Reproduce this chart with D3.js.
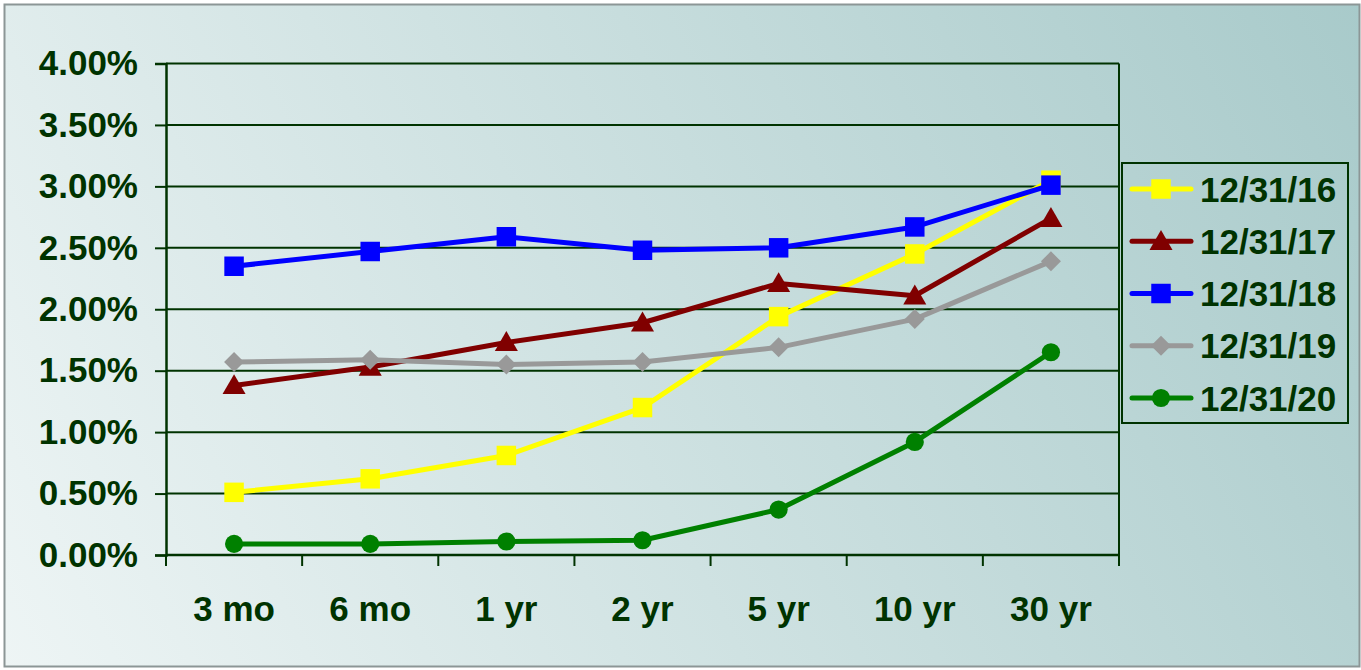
<!DOCTYPE html>
<html>
<head>
<meta charset="utf-8">
<script src="https://cdn.jsdelivr.net/npm/d3@7"></script>
<style>
  html, body { margin: 0; padding: 0; background: #ffffff; }
  svg { display: block; }
  text { font-family: "Liberation Sans", Arial, sans-serif; font-weight: bold; fill: #003300; }
</style>
</head>
<body>
<svg id="chart" width="1361" height="670"></svg>
<script>
// Treasury yield curves at year end (percent)
const maturities = ["3 mo", "6 mo", "1 yr", "2 yr", "5 yr", "10 yr", "30 yr"];
const seriesNames = ["12/31/16", "12/31/17", "12/31/18", "12/31/19", "12/31/20"];
const yields16 = [0.51, 0.62, 0.81, 1.20, 1.94, 2.45, 3.05];
const yields17 = [1.38, 1.53, 1.73, 1.89, 2.21, 2.11, 2.74];
const yields18 = [2.35, 2.47, 2.59, 2.48, 2.50, 2.67, 3.01];
const yields19 = [1.57, 1.59, 1.55, 1.57, 1.69, 1.92, 2.39];
const yields20 = [0.09, 0.09, 0.11, 0.12, 0.37, 0.92, 1.65];
const yTicks = [0, 0.5, 1, 1.5, 2, 2.5, 3, 3.5, 4];

const styles = [
  { color: "#ffff00", shape: "square" },
  { color: "#800000", shape: "triangle" },
  { color: "#0000ff", shape: "square" },
  { color: "#999999", shape: "diamond" },
  { color: "#008000", shape: "circle" }
];
const allValues = [yields16, yields17, yields18, yields19, yields20];
const series = seriesNames.map((name, i) => ({ name, values: allValues[i], ...styles[i] }));

const svg = d3.select("#chart");
const W = 1361, H = 670;
const ink = "#003300";

// Background panel with diagonal gradient
const defs = svg.append("defs");
const grad = defs.append("linearGradient")
  .attr("id", "bg").attr("gradientUnits", "userSpaceOnUse")
  .attr("x1", 0).attr("y1", H).attr("x2", W).attr("y2", 0);
grad.append("stop").attr("offset", 0).attr("stop-color", "#eef5f5");
grad.append("stop").attr("offset", 1).attr("stop-color", "#a8caca");

svg.append("rect").attr("x", 0).attr("y", 0).attr("width", W).attr("height", H).attr("fill", "#ffffff");
svg.append("rect").attr("x", 4.5).attr("y", 4.5).attr("width", W - 6).attr("height", H - 8)
  .attr("fill", "url(#bg)").attr("stroke", "#8c9696").attr("stroke-width", 2);

// Plot area
const plot = { left: 166, right: 1119, top: 63.5, bottom: 555 };

const x = d3.scaleBand().domain(maturities).range([plot.left, plot.right]).padding(0);
const y = d3.scaleLinear().domain([0, 4]).range([plot.bottom, plot.top]);

// Horizontal gridlines
svg.append("g").selectAll("line").data(yTicks).join("line")
  .attr("x1", plot.left).attr("x2", plot.right)
  .attr("y1", d => y(d)).attr("y2", d => y(d))
  .attr("stroke", ink).attr("stroke-width", 2);

// Right border of plot
svg.append("line").attr("x1", plot.right).attr("x2", plot.right)
  .attr("y1", plot.top).attr("y2", plot.bottom)
  .attr("stroke", ink).attr("stroke-width", 2);

// Y axis
const yAxis = svg.append("g").attr("transform", `translate(${plot.left},0)`)
  .call(d3.axisLeft(y).tickValues(yTicks).tickSize(11).tickPadding(17)
    .tickFormat(d => d.toFixed(2) + "%"));
yAxis.select(".domain").attr("stroke", ink).attr("stroke-width", 2.5);
yAxis.selectAll(".tick line").attr("stroke", ink).attr("stroke-width", 2);
yAxis.selectAll(".tick text").attr("font-size", 35).attr("fill", ink)
  .attr("font-family", "Liberation Sans, Arial, sans-serif").attr("font-weight", "bold");

// X axis: ticks between categories
const xAxisG = svg.append("g").attr("transform", `translate(0,${plot.bottom})`);
xAxisG.append("line").attr("x1", plot.left).attr("x2", plot.right).attr("y1", 0).attr("y2", 0)
  .attr("stroke", ink).attr("stroke-width", 2.5);
const boundaries = maturities.map(m => x(m)).concat([x(maturities[maturities.length - 1]) + x.bandwidth()]);
xAxisG.selectAll("line.tk").data(boundaries).join("line").attr("class", "tk")
  .attr("x1", d => d).attr("x2", d => d).attr("y1", 0).attr("y2", 11)
  .attr("stroke", ink).attr("stroke-width", 2);
xAxisG.selectAll("text").data(maturities).join("text")
  .attr("x", d => x(d) + x.bandwidth() / 2).attr("y", 66)
  .attr("text-anchor", "middle").attr("font-size", 35).text(d => d);

// Marker shapes (diamond is a square turned 45 degrees)
const symbolFor = {
  square: d3.symbol().type(d3.symbolSquare).size(380),
  triangle: d3.symbol().type(d3.symbolTriangle).size(230),
  diamond: d3.symbol().type(d3.symbolSquare).size(200),
  circle: d3.symbol().type(d3.symbolCircle).size(260)
};
const markerTransform = (shape, cx, cy) =>
  shape === "triangle" ? `translate(${cx},${cy + 2})`
  : shape === "diamond" ? `translate(${cx},${cy}) rotate(45)`
  : `translate(${cx},${cy})`;

const line = d3.line().x((d, i) => x(maturities[i]) + x.bandwidth() / 2).y(d => y(d));

series.forEach(s => {
  const g = svg.append("g");
  g.append("path").datum(s.values).attr("d", line)
    .attr("fill", "none").attr("stroke", s.color).attr("stroke-width", 5)
    .attr("stroke-linejoin", "round");
  g.selectAll("path.m").data(s.values).join("path").attr("class", "m")
    .attr("d", symbolFor[s.shape]())
    .attr("transform", (d, i) => markerTransform(s.shape, x(maturities[i]) + x.bandwidth() / 2, y(d)))
    .attr("fill", s.color);
});

// Legend
const legend = svg.append("g");
legend.append("rect").attr("x", 1122).attr("y", 163).attr("width", 226).attr("height", 260)
  .attr("fill", "none").attr("stroke", ink).attr("stroke-width", 2);
const legendY = d3.scalePoint().domain(seriesNames).range([189, 398]);
series.forEach(s => {
  const cy = legendY(s.name);
  legend.append("line").attr("x1", 1132).attr("x2", 1191).attr("y1", cy).attr("y2", cy)
    .attr("stroke", s.color).attr("stroke-width", 5).attr("stroke-linecap", "round");
  legend.append("path").attr("d", symbolFor[s.shape]())
    .attr("transform", markerTransform(s.shape, 1161, cy))
    .attr("fill", s.color);
  legend.append("text").attr("x", 1200).attr("y", cy).attr("dy", "0.36em")
    .attr("font-size", 35).text(s.name);
});
</script>
</body>
</html>
